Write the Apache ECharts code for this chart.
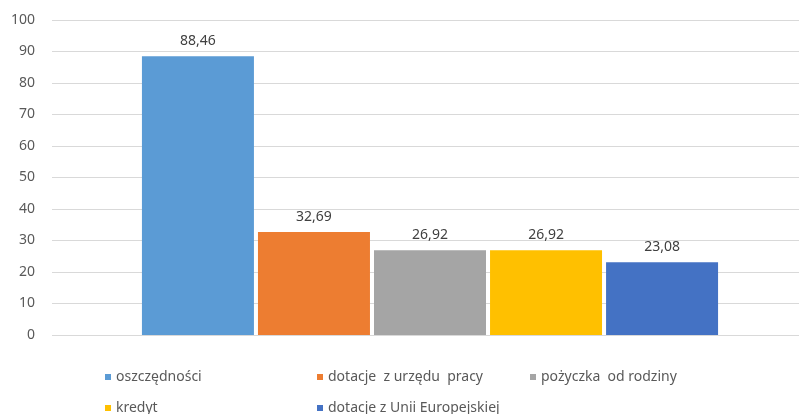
<!DOCTYPE html>
<html><head><meta charset="utf-8">
<script src="https://cdn.jsdelivr.net/npm/echarts@6/dist/echarts.min.js"></script>
<style>html,body{margin:0;padding:0;background:#fff;overflow:hidden}#c{width:809px;height:414px}</style>
</head><body><div id="c"></div>
<script>
const categories = ['oszczędności', 'dotacje  z urzędu  pracy', 'pożyczka  od rodziny', 'kredyt', 'dotacje z Unii Europejskiej'];
const values = [88.46, 32.69, 26.92, 26.92, 23.08];
const colors = ['#5B9BD5', '#ED7D31', '#A5A5A5', '#FFC000', '#4472C4'];
const yTicks = { min: 0, max: 100, interval: 10 };

const chart = echarts.init(document.getElementById('c'));
const font = 'Noto Sans';
const series = categories.map((name, i) => ({
  name: name,
  type: 'bar',
  data: [values[i]],
  barWidth: 112,
  barGap: '3.6%',
  itemStyle: { color: colors[i] },
  label: {
    show: true, position: 'top', distance: 8,
    color: '#404040', fontFamily: font, fontSize: 14,
    formatter: p => p.value.toFixed(2).replace('.', ',')
  }
}));
const legendPos = [[100, 365], [312, 365], [525, 365], [100, 396], [312, 396]];
const legends = categories.map((name, i) => ({
  data: [name], left: legendPos[i][0], top: legendPos[i][1],
  icon: 'rect', itemWidth: 6, itemHeight: 6, selectedMode: false,
  textStyle: { color: '#595959', fontFamily: font, fontSize: 14 }
}));
chart.setOption({
  animation: false,
  grid: { left: 52, right: 1, top: 20, bottom: 79 },
  xAxis: { type: 'category', data: [''], axisLine: { show: false }, axisTick: { show: false }, axisLabel: { show: false } },
  yAxis: {
    type: 'value', min: yTicks.min, max: yTicks.max, interval: yTicks.interval,
    axisLabel: { color: '#595959', fontFamily: font, fontSize: 14, margin: 17 },
    splitLine: { lineStyle: { color: '#D9D9D9', width: 1 } }
  },
  legend: legends,
  series: series
});
</script></body></html>
